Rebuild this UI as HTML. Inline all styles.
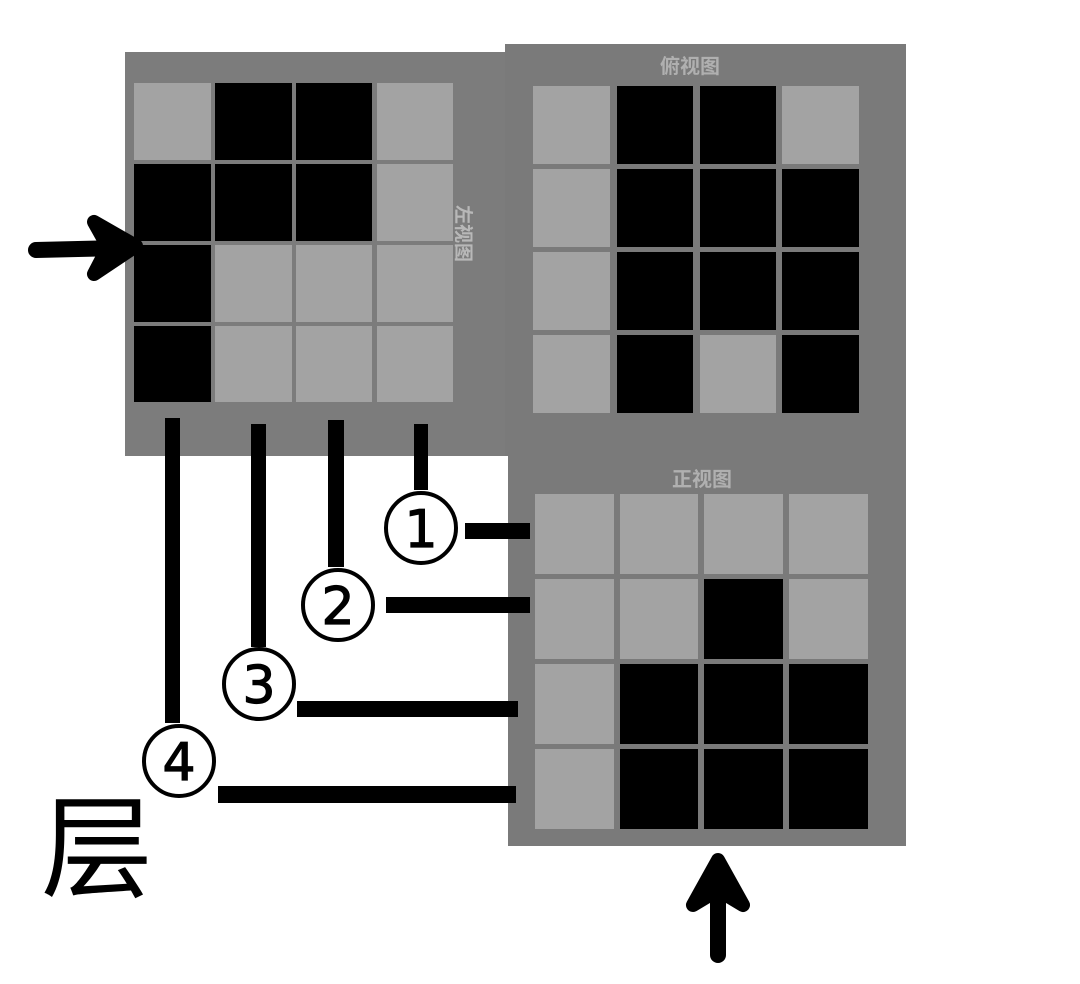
<!DOCTYPE html>
<html><head><meta charset="utf-8"><style>
html,body{margin:0;padding:0;background:#fff;width:1080px;height:984px;overflow:hidden}
svg{display:block}
text{font-family:"Liberation Sans","Noto Sans CJK SC",sans-serif}
</style></head><body>
<svg width="1080" height="984" viewBox="0 0 1080 984" xmlns="http://www.w3.org/2000/svg">
<rect x="125" y="52" width="385" height="404" fill="#7c7c7c"/>
<rect x="505" y="44" width="401" height="412" fill="#7a7a7a"/>
<rect x="508" y="450" width="398" height="396" fill="#7a7a7a"/>
<g>
<rect x="134" y="83" width="77" height="77" fill="#a3a3a3"/>
<rect x="215" y="83" width="77" height="77" fill="#000"/>
<rect x="296" y="83" width="76" height="77" fill="#000"/>
<rect x="377" y="83" width="76" height="77" fill="#a3a3a3"/>
<rect x="134" y="164" width="77" height="77" fill="#000"/>
<rect x="215" y="164" width="77" height="77" fill="#000"/>
<rect x="296" y="164" width="76" height="77" fill="#000"/>
<rect x="377" y="164" width="76" height="77" fill="#a3a3a3"/>
<rect x="134" y="245" width="77" height="77" fill="#000"/>
<rect x="215" y="245" width="77" height="77" fill="#a3a3a3"/>
<rect x="296" y="245" width="76" height="77" fill="#a3a3a3"/>
<rect x="377" y="245" width="76" height="77" fill="#a3a3a3"/>
<rect x="134" y="326" width="77" height="76" fill="#000"/>
<rect x="215" y="326" width="77" height="76" fill="#a3a3a3"/>
<rect x="296" y="326" width="76" height="76" fill="#a3a3a3"/>
<rect x="377" y="326" width="76" height="76" fill="#a3a3a3"/>
</g>
<text x="0" y="0" font-size="19" font-weight="bold" fill="#b8b8b8" transform="translate(457,205) rotate(90)">左视图</text>
<text x="690" y="73" font-size="20" font-weight="bold" fill="#b0b0b0" text-anchor="middle">俯视图</text>
<g>
<rect x="533" y="86" width="77" height="78" fill="#a3a3a3"/>
<rect x="617" y="86" width="76" height="78" fill="#000"/>
<rect x="700" y="86" width="76" height="78" fill="#000"/>
<rect x="782" y="86" width="77" height="78" fill="#a3a3a3"/>
<rect x="533" y="169" width="77" height="78" fill="#a3a3a3"/>
<rect x="617" y="169" width="76" height="78" fill="#000"/>
<rect x="700" y="169" width="76" height="78" fill="#000"/>
<rect x="782" y="169" width="77" height="78" fill="#000"/>
<rect x="533" y="252" width="77" height="78" fill="#a3a3a3"/>
<rect x="617" y="252" width="76" height="78" fill="#000"/>
<rect x="700" y="252" width="76" height="78" fill="#000"/>
<rect x="782" y="252" width="77" height="78" fill="#000"/>
<rect x="533" y="335" width="77" height="78" fill="#a3a3a3"/>
<rect x="617" y="335" width="76" height="78" fill="#000"/>
<rect x="700" y="335" width="76" height="78" fill="#a3a3a3"/>
<rect x="782" y="335" width="77" height="78" fill="#000"/>
</g>
<text x="702" y="486" font-size="20" font-weight="bold" fill="#b0b0b0" text-anchor="middle">正视图</text>
<g>
<rect x="535" y="494" width="79" height="80" fill="#a3a3a3"/>
<rect x="620" y="494" width="78" height="80" fill="#a3a3a3"/>
<rect x="704" y="494" width="79" height="80" fill="#a3a3a3"/>
<rect x="789" y="494" width="79" height="80" fill="#a3a3a3"/>
<rect x="535" y="579" width="79" height="80" fill="#a3a3a3"/>
<rect x="620" y="579" width="78" height="80" fill="#a3a3a3"/>
<rect x="704" y="579" width="79" height="80" fill="#000"/>
<rect x="789" y="579" width="79" height="80" fill="#a3a3a3"/>
<rect x="535" y="664" width="79" height="80" fill="#a3a3a3"/>
<rect x="620" y="664" width="78" height="80" fill="#000"/>
<rect x="704" y="664" width="79" height="80" fill="#000"/>
<rect x="789" y="664" width="79" height="80" fill="#000"/>
<rect x="535" y="749" width="79" height="80" fill="#a3a3a3"/>
<rect x="620" y="749" width="78" height="80" fill="#000"/>
<rect x="704" y="749" width="79" height="80" fill="#000"/>
<rect x="789" y="749" width="79" height="80" fill="#000"/>
</g>
<rect x="165" y="418" width="15" height="305" fill="#000"/>
<rect x="251" y="424" width="15" height="223" fill="#000"/>
<rect x="328" y="420" width="16" height="147" fill="#000"/>
<rect x="414" y="424" width="14" height="66" fill="#000"/>
<rect x="465" y="523" width="65" height="16" fill="#000"/>
<rect x="386" y="597" width="144" height="16" fill="#000"/>
<rect x="297" y="701" width="221" height="16" fill="#000"/>
<rect x="218" y="786" width="298" height="17" fill="#000"/>
<g fill="#fff" stroke="#000" stroke-width="4">
<circle cx="421" cy="528" r="35"/>
<circle cx="338" cy="605" r="35"/>
<circle cx="259" cy="684" r="35"/>
<circle cx="179" cy="761" r="35"/>
</g>
<g font-size="52" text-anchor="middle" fill="#000" stroke="#000" stroke-width="1.2">
<text x="421" y="547" style="font-family:'DejaVu Sans',sans-serif;font-weight:normal">1</text>
<text x="338" y="624" style="font-family:'DejaVu Sans',sans-serif;font-weight:normal">2</text>
<text x="259" y="703" style="font-family:'DejaVu Sans',sans-serif;font-weight:normal">3</text>
<text x="179" y="780" style="font-family:'DejaVu Sans',sans-serif;font-weight:normal">4</text>
</g>
<text x="97" y="888" font-size="112" text-anchor="middle" fill="#000">层</text>
<g stroke="#000" stroke-linecap="round" stroke-linejoin="round" fill="#000">
<line x1="36" y1="250" x2="120" y2="248" stroke-width="16"/>
<polygon points="94,222 136,246 94,274 108,247" stroke-width="14"/>
<line x1="718" y1="955" x2="718" y2="880" stroke-width="16"/>
<polygon points="693,905 718,860 743,905 718,890" stroke-width="14"/>
</g>
</svg>
</body></html>
